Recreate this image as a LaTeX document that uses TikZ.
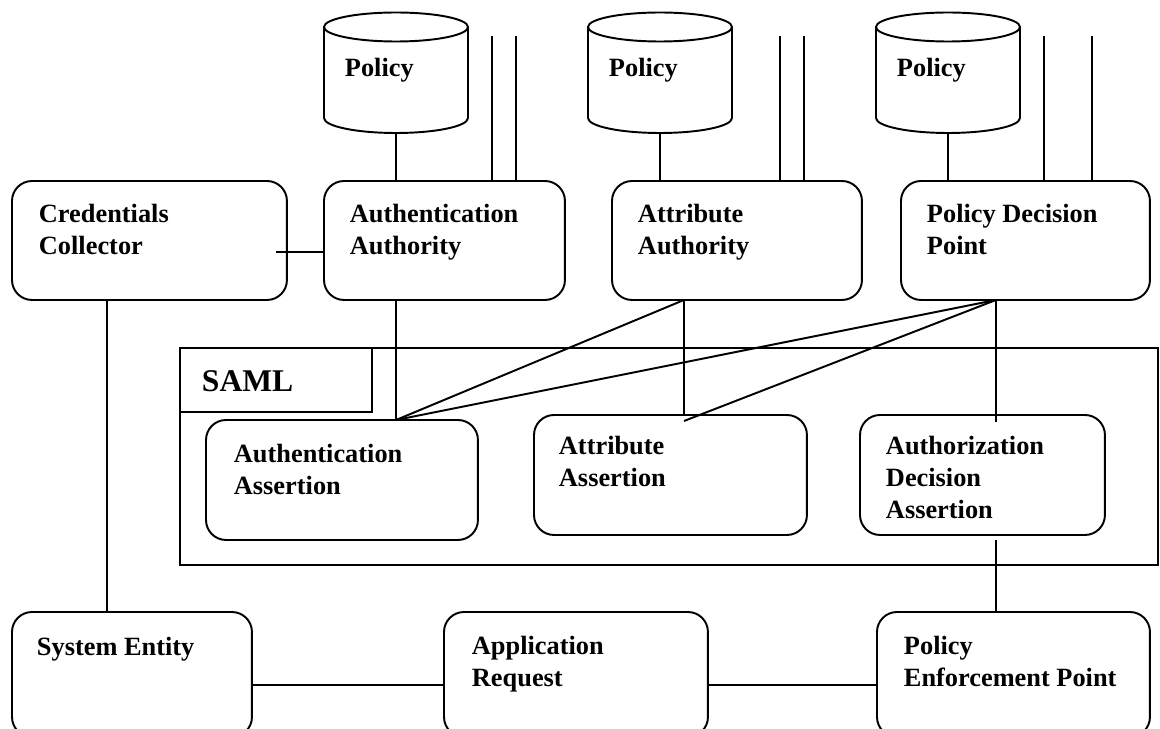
\documentclass[tikz,border=0pt]{standalone}
\usepackage{fontspec}
\setmainfont{Liberation Serif}

\begin{document}
\begin{tikzpicture}[x=0.02cm,y=-0.02cm,line width=1.1pt,
    box/.style={draw,rounded corners=0.4cm,anchor=north west,inner sep=0pt,outer sep=0pt,minimum height=2.38cm},
    frame/.style={draw,anchor=north west,inner sep=0pt,outer sep=0pt},
    txt/.style={anchor=north west,inner sep=0pt,align=left,font=\fontsize{15}{18.2}\selectfont\bfseries}]
  \useasboundingbox (0,0) rectangle (1160,729);
  \clip (0,0) rectangle (1160,729);

  % policy stores
  \foreach \i/\x in {1/324,2/588,3/876} {
    \draw (\x,27) -- (\x,118) arc[start angle=180,end angle=360,x radius=1.44cm,y radius=0.3cm] -- (\x+144,27);
    \draw (\x+72,27) ellipse [x radius=1.44cm,y radius=0.29cm];
    \coordinate (db\i) at (\x+72,133);
    \node[txt] (dbT\i) at (\x+20,57) {Policy};
  }

  % authorities
  \node[box,minimum width=5.5cm] (cred) at (12,181) {};
  \node[box,minimum width=4.82cm] (authn) at (324,181) {};
  \node[box,minimum width=5.0cm] (attr) at (612,181) {};
  \node[box,minimum width=4.98cm] (pdp) at (901,181) {};
  \node[txt] (credT) at ([shift={(26,22)}]cred.north west) {Credentials\\Collector};
  \node[txt] (authnT) at ([shift={(25,22)}]authn.north west) {Authentication\\Authority};
  \node[txt] (attrT) at ([shift={(25,22)}]attr.north west) {Attribute\\Authority};
  \node[txt] (pdpT) at ([shift={(25,22)}]pdp.north west) {Policy Decision\\Point};

  % SAML assertions
  \node[frame,minimum width=19.56cm,minimum height=4.34cm] (saml) at (180,348) {};
  \node[frame,minimum width=3.84cm,minimum height=1.28cm] (samlTag) at (saml.north west) {};
  \node[txt,font=\fontsize{18}{22}\selectfont\bfseries] (samlT) at ([shift={(21,22)}]samlTag.north west) {SAML};
  \node[box,minimum width=5.44cm,minimum height=2.4cm] (authnA) at (206,420) {};
  \node[box,minimum width=5.46cm,minimum height=2.4cm] (attrA) at (534,415) {};
  \node[box,minimum width=4.9cm,minimum height=2.4cm] (authzA) at (860,415) {};
  \node[txt] (authnAT) at ([shift={(27,23)}]authnA.north west) {Authentication\\Assertion};
  \node[txt] (attrAT) at ([shift={(24,20)}]attrA.north west) {Attribute\\Assertion};
  \node[txt] (authzAT) at ([shift={(25,20)}]authzA.north west) {Authorization\\Decision\\Assertion};

  % requester side
  \node[box,minimum width=4.8cm,minimum height=2.5cm] (sys) at (12,612) {};
  \node[box,minimum width=5.28cm,minimum height=2.5cm] (app) at (444,612) {};
  \node[box,minimum width=5.46cm,minimum height=2.5cm] (pep) at (877,612) {};
  \node[txt] (sysT) at ([shift={(24,24)}]sys.north west) {System Entity};
  \node[txt] (appT) at ([shift={(27,23)}]app.north west) {Application\\Request};
  \node[txt] (pepT) at ([shift={(26,23)}]pep.north west) {Policy\\Enforcement Point};

  % links
  \coordinate (aaHub) at ([xshift=-1.06cm]attr.south);
  \coordinate (pdpHub) at ([xshift=-0.59cm]pdp.south);
  \coordinate (anHub) at (db1 |- authnA.north);
  \foreach \x/\b [count=\k] in {492/authn,516/authn,780/attr,804/attr,1044/pdp,1092/pdp} {
    \coordinate (stub\k) at (\x,36);
    \draw (stub\k) -- (stub\k |- \b.north);
  }
  \draw (db1) -- (db1 |- authn.north);
  \draw (db2) -- (db2 |- attr.north);
  \draw (db3) -- (db3 |- pdp.north);
  \draw ([yshift=-0.23cm]authn.west) -- ([xshift=-0.22cm,yshift=-0.23cm]cred.east);
  \draw ([xshift=-0.85cm]cred.south) -- ([xshift=-0.85cm]cred.south |- sys.north);
  \draw (authn.south -| db1) -- (anHub);
  \draw (anHub) -- (aaHub);
  \draw (anHub) -- (pdpHub);
  \draw (aaHub) -- (aaHub |- attrA.north);
  \draw (pdpHub) -- ([yshift=-0.12cm]aaHub |- attrA.north);
  \draw (pdpHub) -- ([yshift=-0.14cm]pdpHub |- authzA.north);
  \draw ([yshift=-0.1cm]pdpHub |- authzA.south) -- (pdpHub |- pep.north);
  \draw ([yshift=-0.21cm]sys.east) -- ([yshift=-0.21cm]app.west);
  \draw ([yshift=-0.21cm]app.east) -- ([yshift=-0.21cm]pep.west);
\end{tikzpicture}
\end{document}
